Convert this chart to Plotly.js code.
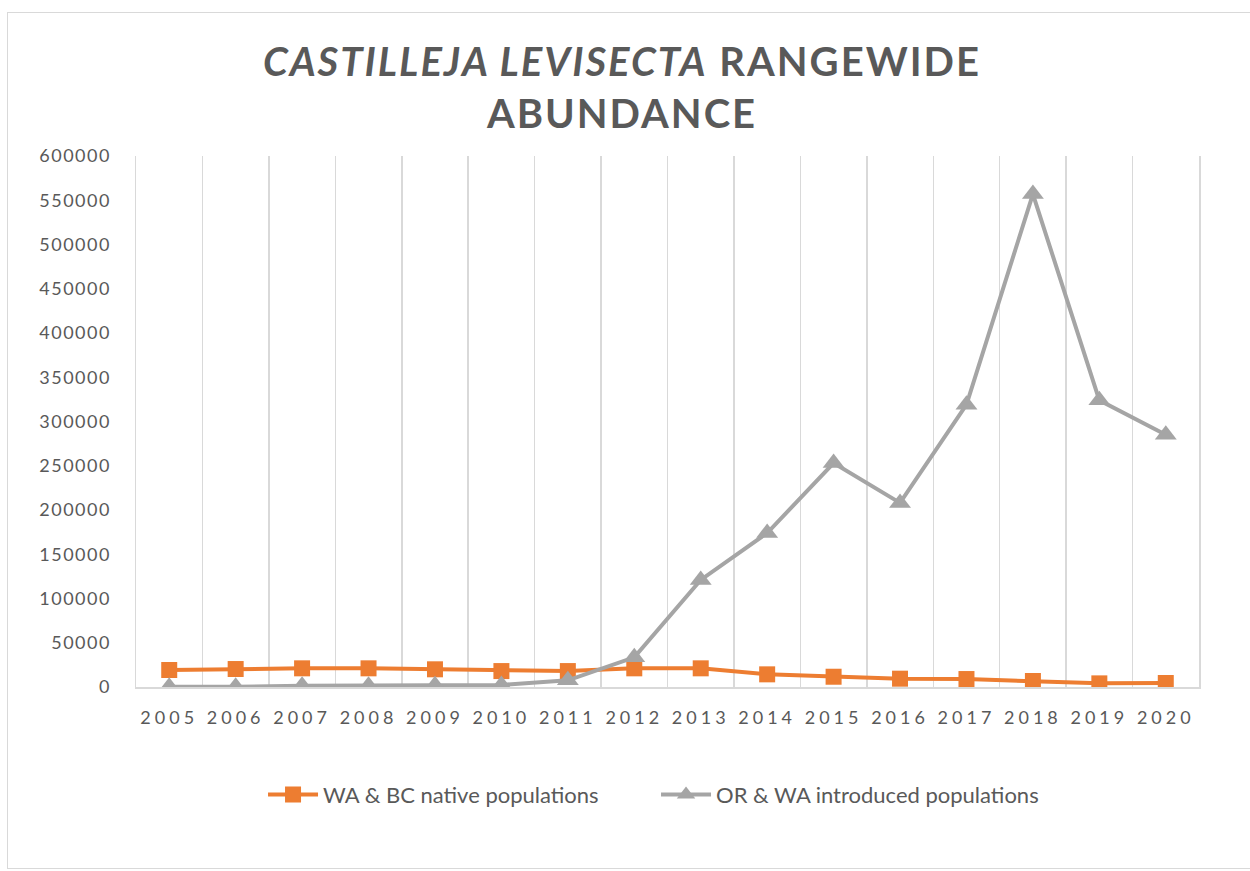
<!DOCTYPE html>
<html>
<head>
<meta charset="utf-8">
<script src="https://cdn.plot.ly/plotly-3.0.1.min.js"></script>
<style>
  html, body { margin: 0; padding: 0; background: #ffffff; overflow: hidden; }
  #frame {
    position: absolute; left: 7px; top: 12px; width: 1260px; height: 857px;
    border: 1px solid #d9d9d9; box-sizing: border-box;
  }
  #chart { position: absolute; left: 0; top: 0; width: 1250px; height: 871px; }
  #chart .gtitle { letter-spacing: 2px; }
  #chart .xtick text { letter-spacing: 4px; }
  #chart .ytick text { letter-spacing: 1.5px; }
</style>
</head>
<body>
<div id="frame"></div>
<div id="chart"></div>
<script>
// Survey years
const years = ["2005", "2006", "2007", "2008", "2009", "2010", "2011", "2012",
               "2013", "2014", "2015", "2016", "2017", "2018", "2019", "2020"];

// Plant counts per year
const nativeWABC = [19200, 20300, 21100, 21100, 20000, 18000, 18000, 21100,
                    21100, 14300, 11600, 9400, 9000, 6800, 4100, 4500];
const introducedORWA = [300, 300, 1500, 1500, 2000, 2300, 7500, 33500,
                        121000, 174000, 253000, 208000, 319000, 557000, 324000, 285000];

const seriesNames = ["WA & BC native populations", "OR & WA introduced populations"];

const textGray = "#595959";
const gridGray = "#d9d9d9";
const fontFace = "Lato, 'Open Sans', sans-serif";

const traces = [
  {
    x: years, y: nativeWABC, name: seriesNames[0],
    type: "scatter", mode: "lines+markers",
    line: { color: "#ED7D31", width: 4 },
    marker: { symbol: "square", size: 16, color: "#ED7D31" }
  },
  {
    x: years, y: introducedORWA, name: seriesNames[1],
    type: "scatter", mode: "lines+markers",
    line: { color: "#A5A5A5", width: 4 },
    marker: { symbol: "triangle-up", size: 19, color: "#A5A5A5" }
  }
];

const layout = {
  width: 1250, height: 871,
  paper_bgcolor: "rgba(0,0,0,0)",
  plot_bgcolor: "rgba(0,0,0,0)",
  margin: { l: 136, r: 51, t: 155.5, b: 184 },
  font: { family: fontFace, color: textGray },
  title: {
    text: "<i>CASTILLEJA LEVISECTA</i> RANGEWIDE<br>ABUNDANCE",
    font: { family: fontFace, size: 40, color: textGray, weight: 700 },
    x: 0.4976, xref: "container", xanchor: "center",
    y: 0.913, yref: "container", yanchor: "top"
  },
  xaxis: {
    type: "category",
    range: [-0.5, 15.5],
    tickson: "boundaries",
    showgrid: true, gridcolor: gridGray, gridwidth: 1.5,
    showline: true, linecolor: gridGray, linewidth: 1.5,
    ticks: "", ticklabelstandoff: 14,
    tickfont: { family: fontFace, size: 18, color: textGray },
    fixedrange: true
  },
  yaxis: {
    range: [0, 600000], dtick: 50000, tick0: 0,
    showgrid: false, zeroline: false,
    showline: true, mirror: true, linecolor: gridGray, linewidth: 1.5,
    ticks: "", ticklabelstandoff: 20,
    tickformat: "d",
    tickfont: { family: fontFace, size: 18, color: textGray },
    fixedrange: true
  },
  showlegend: true,
  legend: {
    orientation: "h",
    x: 0.1195, xanchor: "left",
    y: -0.203, yanchor: "middle",
    font: { family: fontFace, size: 22, color: textGray },
    itemwidth: 50,
    entrywidth: 328, entrywidthmode: "pixels",
    bgcolor: "rgba(0,0,0,0)"
  }
};

Plotly.newPlot("chart", traces, layout, { staticPlot: true, displayModeBar: false });
</script>
</body>
</html>
